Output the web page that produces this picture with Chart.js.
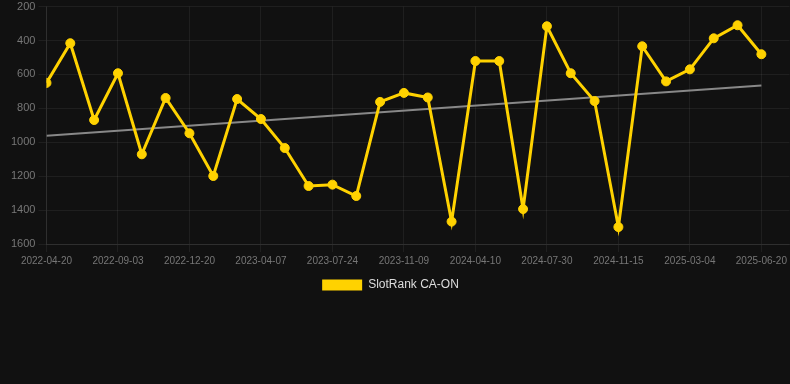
<!DOCTYPE html>
<html>
<head>
<meta charset="utf-8">
<script src="https://cdn.jsdelivr.net/npm/chart.js@4/dist/chart.umd.min.js"></script>
<style>
html,body{margin:0;padding:0;background:#111111;overflow:hidden;}
#wrap{position:relative;width:795px;height:305px;margin-top:-3px;}
</style>
</head>
<body>
<div id="wrap"><canvas id="c"></canvas></div>
<script>
const dateLabels = [
  "2022-04-20","2022-06-05","2022-07-20","2022-09-03","2022-10-09","2022-11-14",
  "2022-12-20","2023-01-25","2023-03-02","2023-04-07","2023-05-13","2023-06-18",
  "2023-07-24","2023-08-29","2023-10-04","2023-11-09","2023-12-30","2024-02-19",
  "2024-04-10","2024-05-17","2024-06-23","2024-07-30","2024-09-05","2024-10-10",
  "2024-11-15","2024-12-21","2025-01-26","2025-03-04","2025-04-09","2025-05-15",
  "2025-06-20"
];
const rankValues = [
  650, 416, 869, 593, 1071, 739, 947, 1199, 745, 863,
  1034, 1258, 1250, 1317, 762, 709, 736, 1468, 521, 521,
  1394, 316, 593, 757, 1500, 434, 641, 570, 387, 310, 481
];
const trendEnds = [961, 666];
const yTicks = [200, 400, 600, 800, 1000, 1200, 1400, 1600];
const seriesName = "SlotRank CA-ON";

const mainData = rankValues.map((v, i) => ({x: i, y: v}));
const trendData = [{x: 0, y: trendEnds[0]}, {x: rankValues.length - 1, y: trendEnds[1]}];

const gold = "#FFD200";
const fontFam = "'Liberation Sans', Arial, sans-serif";

const legendShift = {
  id: "legendShift",
  afterLayout(chart) {
    const lg = chart.legend;
    if (lg) {
      lg.left -= 11; lg.right -= 11;
      lg.top -= 1; lg.bottom -= 1;
      if (lg.adjustHitBoxes) lg.adjustHitBoxes();
    }
  }
};

new Chart(document.getElementById("c"), {
  type: "line",
  data: {
    datasets: [
      {
        label: seriesName,
        data: mainData,
        borderColor: gold,
        backgroundColor: gold,
        pointBackgroundColor: gold,
        pointBorderColor: gold,
        borderWidth: 3,
        pointRadius: 4.5,
        pointBorderWidth: 1,
        tension: 0,
        order: 1
      },
      {
        label: "trend",
        data: trendData,
        borderColor: "#888888",
        borderWidth: 2,
        pointRadius: 0,
        tension: 0,
        order: 2
      }
    ]
  },
  plugins: [legendShift],
  options: {
    responsive: true,
    maintainAspectRatio: false,
    animation: false,
    layout: {padding: {left: 8, right: 0, top: 0, bottom: 0}},
    plugins: {
      tooltip: {enabled: false},
      legend: {
        position: "bottom",
        labels: {
          color: "#dddddd",
          font: {family: fontFam, size: 12},
          boxWidth: 40,
          boxHeight: 11,
          filter: (item) => item.datasetIndex === 0,
          generateLabels: (chart) => Chart.defaults.plugins.legend.labels.generateLabels(chart)
            .map(it => Object.assign(it, {lineWidth: 0, fillStyle: gold, strokeStyle: gold}))
        }
      }
    },
    scales: {
      x: {
        type: "linear",
        min: 0,
        max: 31.18,
        grid: {color: "rgba(255,255,255,0.06)", tickLength: 8},
        border: {color: "rgba(255,255,255,0.08)"},
        ticks: {
          stepSize: 3,
          includeBounds: false,
          autoSkip: false,
          maxRotation: 0,
          color: "#777777",
          font: {family: fontFam, size: 10},
          callback: (v) => (Number.isInteger(v) && dateLabels[v]) ? dateLabels[v] : ""
        }
      },
      y: {
        reverse: true,
        min: yTicks[0],
        max: yTicks[yTicks.length - 1],
        grid: {color: "rgba(255,255,255,0.06)", tickLength: 8},
        border: {color: "rgba(255,255,255,0.08)"},
        afterBuildTicks: (axis) => { axis.ticks = yTicks.map(v => ({value: v})); },
        ticks: {
          color: "#777777",
          font: {family: fontFam, size: 11},
          callback: (v) => String(v)
        }
      }
    }
  }
});
</script>
</body>
</html>
